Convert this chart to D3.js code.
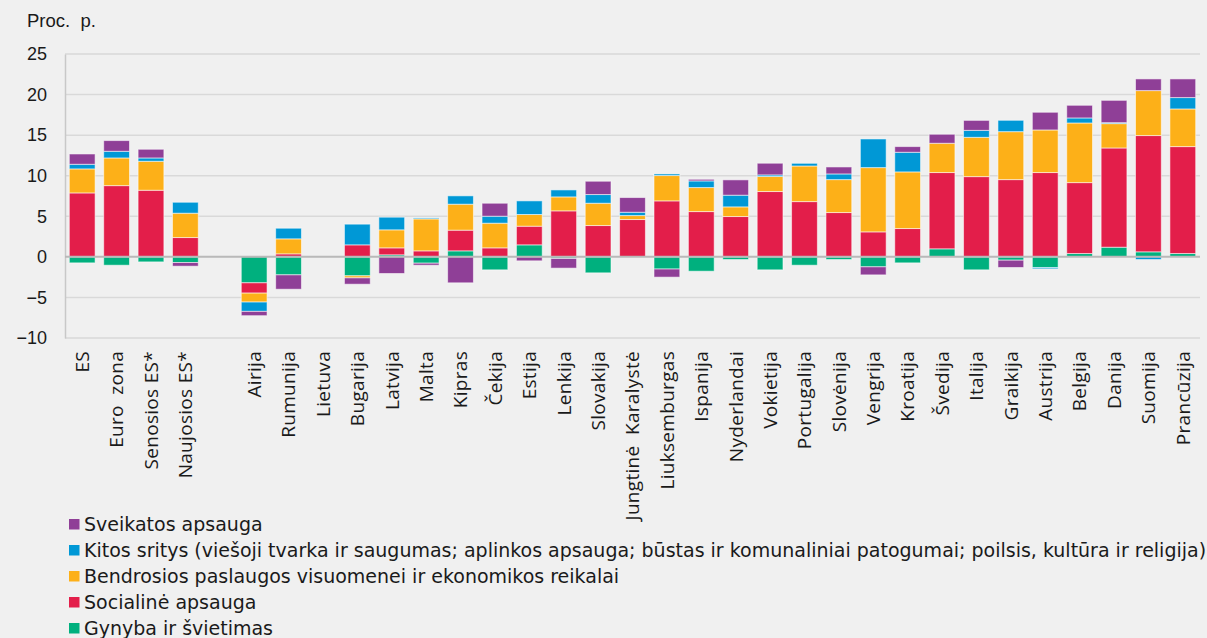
<!DOCTYPE html>
<html><head><meta charset="utf-8">
<script src="https://cdn.jsdelivr.net/npm/d3@7"></script>
<style>
html,body{margin:0;padding:0;background:#f0f0f0;}
svg{display:block;}
</style></head>
<body><svg id="c" width="1207" height="638"></svg>
<script>
const categories = ["ES","Euro  zona","Senosios ES*","Naujosios ES*"," ","Airija","Rumunija","Lietuva","Bugarija","Latvija","Malta","Kipras","Čekija","Estija","Lenkija","Slovakija","Jungtinė  Karalystė","Liuksemburgas","Ispanija","Nyderlandai","Vokietija","Portugalija","Slovėnija","Vengrija","Kroatija","Švedija","Italija","Graikija","Austrija","Belgija","Danija","Suomija","Prancūzija"];
const gynyba =     [-0.74,-1.03,-0.62,-0.70,0,-3.2,-2.22,0,-2.34,0.25,-0.78,0.74,-1.6,1.48,-0.2,-1.97,0,-1.5,-1.77,-0.33,-1.6,-1.03,-0.33,-1.23,-0.74,0.99,-1.6,-0.41,-1.31,0.41,1.19,0.62,0.41];
const socialine =  [7.88,8.78,8.21,2.38,0,-1.27,0.37,0,1.48,0.86,0.74,2.55,1.11,2.3,5.67,3.86,4.6,6.9,5.58,4.97,8.05,6.81,5.46,3.08,3.49,9.40,9.89,9.52,10.39,8.74,12.23,14.33,13.18];
const bendrosios = [2.96,3.41,3.57,3.0,0,-1.1,1.85,0,-0.25,2.22,3.94,3.2,3.04,1.44,1.72,2.75,0.49,3.12,2.96,1.19,1.85,4.39,4.06,7.92,6.98,3.61,4.84,5.91,5.25,7.35,3.0,5.54,4.64];
const kitos =      [0.57,0.82,0.41,1.35,0,-1.15,1.31,0,2.55,1.56,0.12,1.03,0.86,1.68,0.86,1.07,0.41,0.2,0.82,1.44,0.2,0.33,0.7,3.53,2.42,0,0.86,1.4,-0.16,0.62,0.12,-0.33,1.4];
const sveikatos =  [1.27,1.32,1.07,-0.45,0,-0.53,-1.77,0,-0.78,-2.05,-0.25,-3.2,1.6,-0.49,-1.19,1.64,1.81,-1.0,0.2,1.89,1.44,0,0.86,-0.99,0.7,1.11,1.23,-0.9,2.18,1.56,2.75,1.44,2.3];
const yTicks = [-10,-5,0,5,10,15,20,25];
const seriesNames = ["Gynyba ir švietimas","Socialinė apsauga","Bendrosios paslaugos visuomenei ir ekonomikos reikalai","Kitos sritys (viešoji tvarka ir saugumas; aplinkos apsauga; būstas ir komunaliniai patogumai; poilsis, kultūra ir religija)","Sveikatos apsauga"];
const seriesColors = ["#00b07e","#e31e4a","#fdb018","#0098d6","#8f3f97"];
const seriesValues = [gynyba, socialine, bendrosios, kitos, sveikatos];

const rows = categories.map((c,i)=>{const o={cat:c}; seriesNames.forEach((s,j)=>o[s]=seriesValues[j][i]); return o;});
const stack = d3.stack().keys(seriesNames).offset(d3.stackOffsetDiverging)(rows);

const svg = d3.select("#c");
const L=65, R=1200, T=54, B=338;
const x = d3.scaleBand().domain(categories).range([L,R]).paddingInner(0.25).paddingOuter(0.125);
const y = d3.scaleLinear().domain([-10,25]).range([B,T]);

// grid
svg.append("g").selectAll("line").data(yTicks.filter(t=>t!==0)).join("line")
  .attr("x1",L).attr("x2",R).attr("y1",d=>y(d)).attr("y2",d=>y(d))
  .attr("stroke","#d9d9d9").attr("stroke-width",1.5);

// y axis
const ya = svg.append("g").attr("transform",`translate(${L},0)`)
  .call(d3.axisLeft(y).tickValues(yTicks).tickSize(0).tickPadding(18));
ya.select(".domain").attr("stroke","#c8c8c8").attr("stroke-width",1.5);
ya.selectAll("text").attr("font-family","Liberation Sans, Arial, sans-serif").attr("font-size",18).attr("fill","#1a1a1a");

// bars
svg.append("g").selectAll("g").data(stack).join("g").attr("fill",(d,i)=>seriesColors[i])
  .selectAll("rect").data(d=>d).join("rect")
  .attr("x",d=>x(d.data.cat)).attr("width",x.bandwidth())
  .attr("y",d=>y(Math.max(d[0],d[1]))).attr("height",d=>Math.abs(y(d[0])-y(d[1])))
  .attr("stroke","rgba(255,255,255,0.55)").attr("stroke-width",1);

// zero line
svg.append("line").attr("x1",L).attr("x2",R).attr("y1",y(0)).attr("y2",y(0))
  .attr("stroke","#b9b9b9").attr("stroke-width",2);

// x axis labels
const xa = svg.append("g").attr("transform",`translate(0,${B})`)
  .call(d3.axisBottom(x).tickSize(0).tickPadding(0));
xa.select(".domain").remove();
xa.selectAll("text")
  .attr("font-family","Open Sans, sans-serif").attr("font-size",19).attr("fill","#1a1a1a")
  .attr("letter-spacing",0.3).style("white-space","pre")
  .attr("transform","rotate(-90)").attr("text-anchor","end")
  .attr("x",-13).attr("y",0).attr("dy","0.36em");

// title
svg.append("text").attr("x",27).attr("y",27).text("Proc.  p.")
  .attr("font-family","Liberation Sans, Arial, sans-serif").attr("font-size",18.5).attr("fill","#1a1a1a")
  .style("white-space","pre");

// legend
const legendOrder = [4,3,2,1,0];
const lg = svg.append("g").selectAll("g").data(legendOrder).join("g")
  .attr("transform",(d,i)=>`translate(69,${524+i*26})`);
lg.append("rect").attr("x",0).attr("y",-5).attr("width",10.5).attr("height",10.5).attr("fill",d=>seriesColors[d]);
lg.append("text").attr("x",15).attr("y",7).text(d=>seriesNames[d])
  .attr("font-family","DejaVu Sans, Verdana, sans-serif").attr("font-size",19).attr("fill","#1a1a1a");
</script></body></html>
